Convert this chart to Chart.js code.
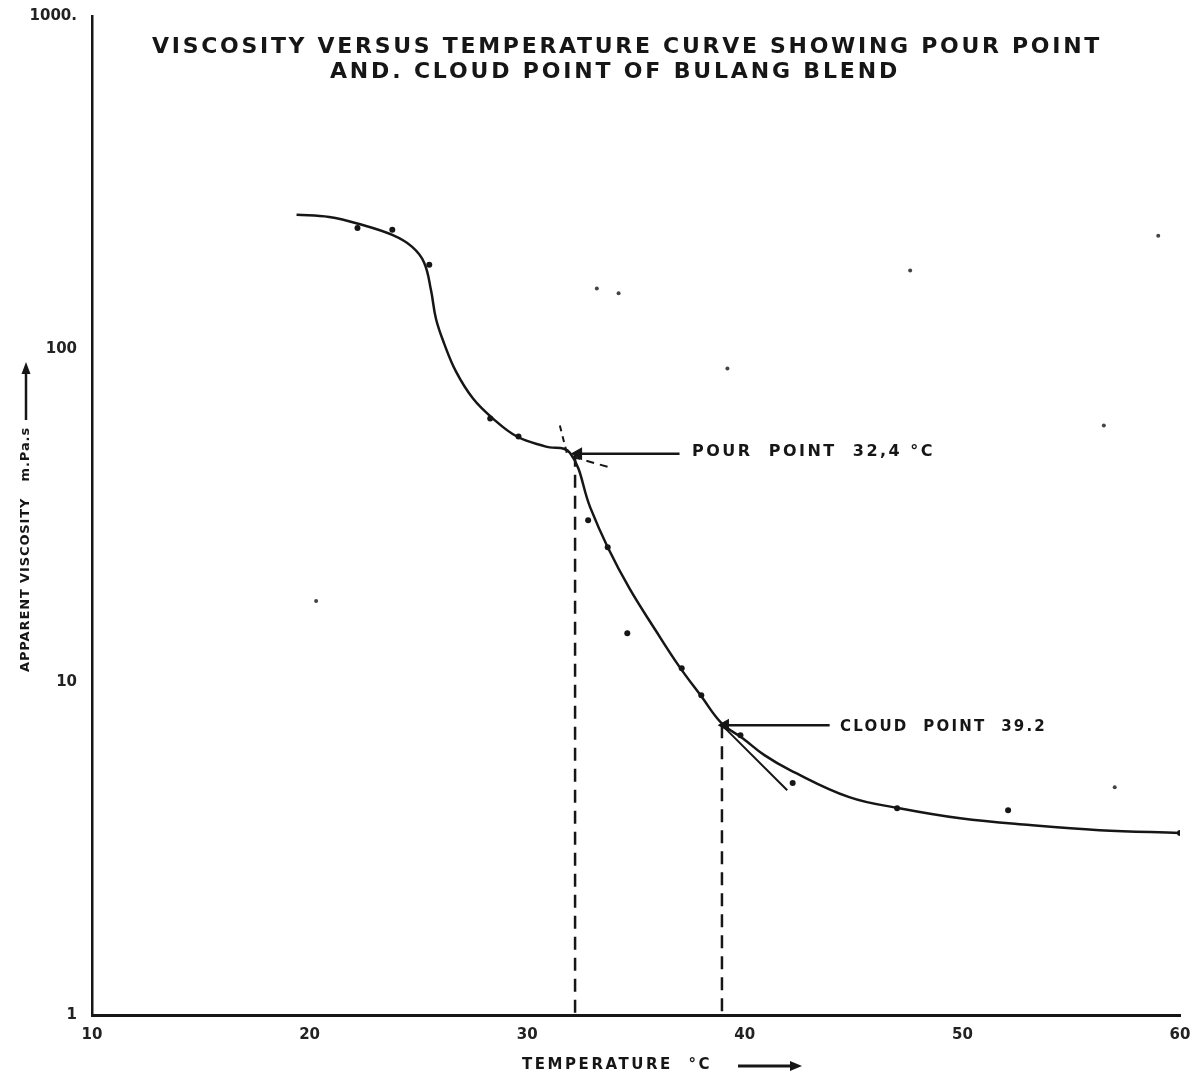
<!DOCTYPE html>
<html>
<head>
<meta charset="utf-8">
<script src="https://cdn.jsdelivr.net/npm/chart.js@4.4.1/dist/chart.umd.min.js"></script>
<style>
  html, body { margin: 0; padding: 0; background: #fff; }
  #wrap { width: 1198px; height: 1077px; position: relative; }
</style>
</head>
<body>
<div id="wrap"><canvas id="chart"></canvas></div>
<script>
// ---------------- data (temperature in °C, viscosity in mPa.s) ----------------//
// hand drawn smooth curve
const curveTemp = [19.4, 20.9, 22.4, 23.8, 24.7, 25.26, 25.58, 25.81, 26.18, 26.73, 27.51, 28.43, 29.53, 30.82, 31.97, 32.9, 33.7, 34.7, 35.9, 37.0, 38.0, 38.95, 39.9, 40.9, 42.1, 44.8, 47.1, 49.9, 53.1, 56.3, 60.0];
const curveVisc = [253, 249, 236, 220, 203, 182, 150, 123, 104, 85.5, 71.0, 61.8, 54.6, 51.0, 48.7, 33.4, 25.4, 19.1, 14.3, 11.1, 9.06, 7.5, 6.78, 6.03, 5.43, 4.51, 4.18, 3.9, 3.72, 3.59, 3.52];

// measured points
const pointTemp = [22.2, 23.8, 25.5, 28.3, 29.6, 32.8, 33.7, 34.6, 37.1, 38.0, 39.8, 42.2, 47.0, 52.1, 60.0];
const pointVisc = [231, 228, 179, 61.8, 54.6, 30.6, 25.4, 14.0, 11.0, 9.12, 6.92, 4.97, 4.18, 4.12, 3.52];

// specks on the sheet
const speckTemp = [59.0, 47.6, 33.2, 34.2, 39.2, 56.5, 20.3, 57.0];
const speckVisc = [219, 172, 152, 147, 87.4, 58.9, 17.5, 4.83];

// pour point and cloud point
const pourTemp = 32.2;
const pourVisc = 48.5;
const cloudTemp = 38.95;
const cloudVisc = 7.42;

// tangents drawn through the two points
const pourSteepTemp = [31.5, 31.85];
const pourSteepVisc = [58.9, 47.9];
const pourFlatTemp = [32.1, 33.95];
const pourFlatVisc = [47.4, 43.8];
const cloudTanTemp = [38.95, 41.95];
const cloudTanVisc = [7.42, 4.73];

// annotation arrows: tail temperature, head temperature
const pourArrowTemp = [37.0, 32.35];
const cloudArrowTemp = [43.9, 39.1];

const xTicks = [10, 20, 30, 40, 50, 60];
const yTicks = [1, 10, 100, 1000];
const yTickLabels = ['1', '10', '100', '1000.'];

const INK = '#161616';

const pairs = (xs, ys) => xs.map((x, i) => ({ x: x, y: ys[i] }));

// draw text stretched to a given width (lettering on the original is widely spaced)
function spacedText(ctx, text, left, y, width) {
    ctx.letterSpacing = '0px';
    const natural = ctx.measureText(text).width;
    const gap = (width - natural) / text.length;
    ctx.letterSpacing = gap + 'px';
    ctx.textAlign = 'left';
    ctx.fillText(text, left, y);
    ctx.letterSpacing = '0px';
}

const lettering = {
    id: 'lettering',
    afterDraw(chart) {
        const ctx = chart.ctx;
        ctx.save();
        ctx.fillStyle = INK;
        ctx.strokeStyle = INK;
        ctx.textBaseline = 'middle';

        // title
        ctx.font = 'bold 22px "DejaVu Sans"';
        spacedText(ctx, 'VISCOSITY VERSUS TEMPERATURE CURVE SHOWING POUR POINT', 152, 47, 950);
        spacedText(ctx, 'AND. CLOUD POINT OF BULANG BLEND', 330, 72, 570);

        // labels of the arrows
        ctx.font = 'bold 16px "DejaVu Sans"';
        spacedText(ctx, 'POUR  POINT  32,4 °C', 692, 452, 243);
        ctx.font = 'bold 15px "DejaVu Sans"';
        spacedText(ctx, 'CLOUD  POINT  39.2', 840, 727, 207);

        // x axis title
        ctx.font = 'bold 15px "DejaVu Sans"';
        spacedText(ctx, 'TEMPERATURE  °C', 522, 1065, 190);
        ctx.lineWidth = 3;
        ctx.beginPath();
        ctx.moveTo(738, 1066);
        ctx.lineTo(795, 1066);
        ctx.stroke();
        ctx.beginPath();
        ctx.moveTo(802, 1066);
        ctx.lineTo(790, 1061);
        ctx.lineTo(790, 1071);
        ctx.closePath();
        ctx.fill();

        // y axis title
        ctx.save();
        ctx.translate(26, 0);
        ctx.rotate(-Math.PI / 2);
        ctx.font = 'bold 13px "DejaVu Sans"';
        spacedText(ctx, 'APPARENT VISCOSITY   m.Pa.s', -672, 0, 245);
        ctx.lineWidth = 2.5;
        ctx.beginPath();
        ctx.moveTo(-420, 0);
        ctx.lineTo(-370, 0);
        ctx.stroke();
        ctx.beginPath();
        ctx.moveTo(-362, 0);
        ctx.lineTo(-374, -4.5);
        ctx.lineTo(-374, 4.5);
        ctx.closePath();
        ctx.fill();
        ctx.restore();

        ctx.restore();
    }
};

const ctx = document.getElementById('chart').getContext('2d');

new Chart(ctx, {
    type: 'scatter',
    data: {
        datasets: [
            {
                label: 'curve',
                type: 'line',
                data: pairs(curveTemp, curveVisc),
                borderColor: INK,
                borderWidth: 2.5,
                pointRadius: 0,
                tension: 0.4
            },
            {
                label: 'measured',
                data: pairs(pointTemp, pointVisc),
                backgroundColor: INK,
                borderWidth: 0,
                pointRadius: 3
            },
            {
                label: 'specks',
                data: pairs(speckTemp, speckVisc),
                backgroundColor: '#444',
                borderWidth: 0,
                pointRadius: 2
            },
            {
                label: 'pour drop',
                type: 'line',
                data: [{ x: pourTemp, y: pourVisc }, { x: pourTemp, y: 1 }],
                borderColor: INK,
                borderWidth: 2.5,
                borderDash: [13, 8],
                pointRadius: 0
            },
            {
                label: 'cloud drop',
                type: 'line',
                data: [{ x: cloudTemp, y: cloudVisc }, { x: cloudTemp, y: 1 }],
                borderColor: INK,
                borderWidth: 2.5,
                borderDash: [13, 8],
                pointRadius: 0
            },
            {
                label: 'pour tangent steep',
                type: 'line',
                data: pairs(pourSteepTemp, pourSteepVisc),
                borderColor: INK,
                borderWidth: 2,
                borderDash: [6, 5],
                pointRadius: 0
            },
            {
                label: 'pour tangent flat',
                type: 'line',
                data: pairs(pourFlatTemp, pourFlatVisc),
                borderColor: INK,
                borderWidth: 2,
                borderDash: [8, 6],
                pointRadius: 0
            },
            {
                label: 'cloud tangent',
                type: 'line',
                data: pairs(cloudTanTemp, cloudTanVisc),
                borderColor: INK,
                borderWidth: 2,
                pointRadius: 0
            },
            {
                label: 'pour arrow',
                type: 'line',
                data: pourArrowTemp.map(t => ({ x: t, y: pourVisc })),
                borderColor: INK,
                borderWidth: 2.5,
                pointStyle: 'triangle',
                pointRotation: -90,
                pointRadius: [0, 5],
                pointBackgroundColor: INK,
                pointBorderColor: INK
            },
            {
                label: 'cloud arrow',
                type: 'line',
                data: cloudArrowTemp.map(t => ({ x: t, y: cloudVisc })),
                borderColor: INK,
                borderWidth: 2.5,
                pointStyle: 'triangle',
                pointRotation: -90,
                pointRadius: [0, 5],
                pointBackgroundColor: INK,
                pointBorderColor: INK
            }
        ]
    },
    options: {
        responsive: true,
        maintainAspectRatio: false,
        animation: false,
        layout: {
            padding: { top: 15, right: 18, left: 0, bottom: 0 }
        },
        plugins: {
            legend: { display: false },
            tooltip: { enabled: false }
        },
        scales: {
            x: {
                type: 'linear',
                min: 10,
                max: 60,
                grid: { display: false },
                border: { display: true, color: INK, width: 3 },
                afterBuildTicks: scale => {
                    scale.ticks = xTicks.map(v => ({ value: v }));
                },
                ticks: {
                    color: '#222',
                    padding: 3,
                    font: { family: 'DejaVu Sans', size: 15, weight: 'bold' },
                    maxRotation: 0
                },
                afterFit: scale => { scale.height = 62; }
            },
            y: {
                type: 'logarithmic',
                min: 1,
                max: 1000,
                grid: { display: false },
                border: { display: true, color: INK, width: 2.5 },
                afterBuildTicks: scale => {
                    scale.ticks = yTicks.map(v => ({ value: v }));
                },
                ticks: {
                    color: '#222',
                    padding: 7,
                    autoSkip: false,
                    font: { family: 'DejaVu Sans', size: 15, weight: 'bold' },
                    callback: value => {
                        const i = yTicks.indexOf(value);
                        return i >= 0 ? yTickLabels[i] : '';
                    }
                },
                afterFit: scale => { scale.width = 92; }
            }
        }
    },
    plugins: [lettering]
});
</script>
</body>
</html>
